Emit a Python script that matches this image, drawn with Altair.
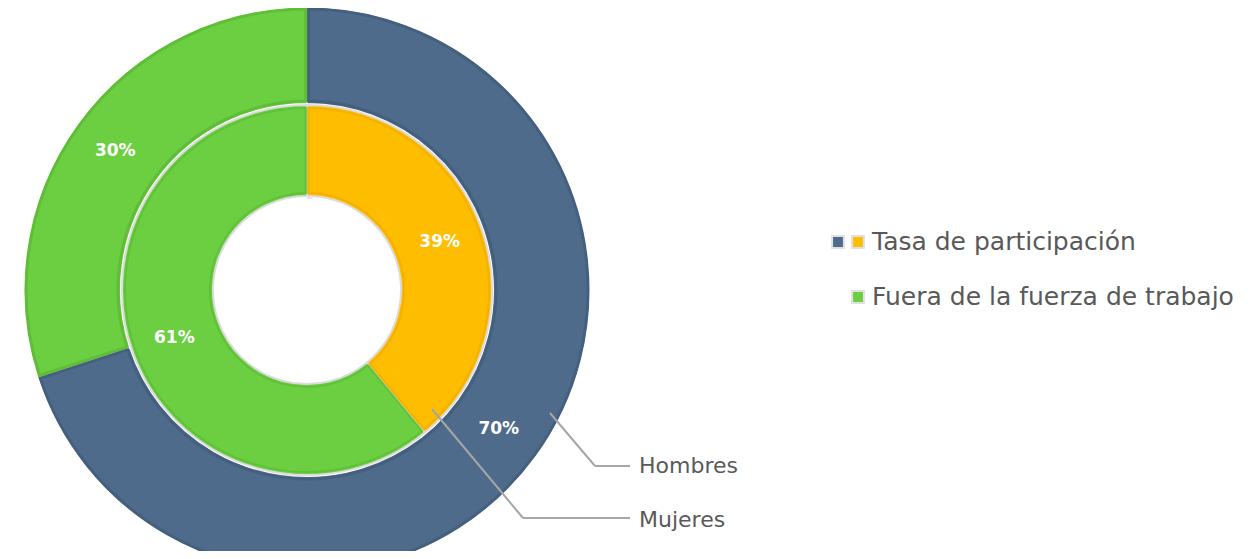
import altair as alt
import pandas as pd

# ---- data ----
categories = ["Tasa de participación", "Fuera de la fuerza de trabajo"]
rings = ["Hombres", "Mujeres"]
hombres = [70, 30]
mujeres = [39, 61]

fill_colors = {
    "Hombres|Tasa de participación": "#4e6b8b",
    "Hombres|Fuera de la fuerza de trabajo": "#6bcf41",
    "Mujeres|Tasa de participación": "#ffbd00",
    "Mujeres|Fuera de la fuerza de trabajo": "#6bcf41",
}
edge_colors = {
    "Hombres|Tasa de participación": "#44607e",
    "Hombres|Fuera de la fuerza de trabajo": "#5fbd37",
    "Mujeres|Tasa de participación": "#f5b000",
    "Mujeres|Fuera de la fuerza de trabajo": "#60c238",
}

rows = []
for ring, vals in zip(rings, [hombres, mujeres]):
    for i, (cat, v) in enumerate(zip(categories, vals)):
        rows.append(dict(ring=ring, category=cat, value=v, order=i,
                         key=f"{ring}|{cat}", label=f"{v}%"))
df = pd.DataFrame(rows)
keys = list(fill_colors.keys())

CX, CY = 299, 282
R_OUT, R_MID, R_IN = 283, 186, 94
FONT = "DejaVu Sans"
GREY = "#595959"

base = alt.Chart(df).encode(
    theta=alt.Theta("value:Q", stack=True),
    order=alt.Order("order:O"),
    x=alt.value(CX),
    y=alt.value(CY),
)
fill_enc = alt.Color("key:N", scale=alt.Scale(domain=keys, range=[fill_colors[k] for k in keys]), legend=None)
edge_enc = alt.Stroke("key:N", scale=alt.Scale(domain=keys, range=[edge_colors[k] for k in keys]), legend=None)

outer = base.transform_filter(alt.datum.ring == "Hombres").mark_arc(
    radius=R_OUT, radius2=R_MID, stroke="white", strokeWidth=2
).encode(color=fill_enc)
outer_edge = base.transform_filter(alt.datum.ring == "Hombres").mark_arc(
    radius=R_OUT - 2, radius2=R_MID + 3, fillOpacity=0, strokeWidth=3, padAngle=0.008
).encode(stroke=edge_enc)

inner = base.transform_filter(alt.datum.ring == "Mujeres").mark_arc(
    radius=R_MID - 1, radius2=R_IN, stroke="#dcdcdc", strokeWidth=2
).encode(color=fill_enc)
inner_edge = base.transform_filter(alt.datum.ring == "Mujeres").mark_arc(
    radius=R_MID - 4, radius2=R_IN + 3, fillOpacity=0, strokeWidth=2, padAngle=0.012
).encode(stroke=edge_enc)

hole = alt.Chart(pd.DataFrame({"v": [1]})).mark_arc(
    radius=R_IN, radius2=R_IN - 3, color="#e4e4e4"
).encode(theta=alt.Theta("v:Q"), x=alt.value(CX), y=alt.value(CY))

txt_outer = base.transform_filter(alt.datum.ring == "Hombres").mark_text(
    radius=237, font=FONT, fontSize=17, fontWeight="bold", color="white"
).encode(text="label:N")
txt_inner = base.transform_filter(alt.datum.ring == "Mujeres").mark_text(
    radius=141, font=FONT, fontSize=17, fontWeight="bold", color="white"
).encode(text="label:N")

# ---- leader lines and ring labels ----
one = pd.DataFrame({"v": [0]})
def rule(x, y, x2, y2):
    return alt.Chart(one).mark_rule(color="#a6a6a6", strokeWidth=2).encode(
        x=alt.value(x), y=alt.value(y), x2=alt.value(x2), y2=alt.value(y2))

leaders = [
    rule(542, 405, 587, 458), rule(587, 458, 622, 458),
    rule(424, 401, 515, 510), rule(515, 510, 622, 510),
]
ring_lbl = [
    alt.Chart(pd.DataFrame({"t": [rings[0]]})).mark_text(
        align="left", baseline="middle", font=FONT, fontSize=22, color=GREY
    ).encode(text="t:N", x=alt.value(631), y=alt.value(458)),
    alt.Chart(pd.DataFrame({"t": [rings[1]]})).mark_text(
        align="left", baseline="middle", font=FONT, fontSize=22, color=GREY
    ).encode(text="t:N", x=alt.value(631), y=alt.value(512)),
]

# ---- manual legend ----
def sq(x, y, c):
    return alt.Chart(one).mark_square(size=140, filled=True, color=c, stroke="#e0e0e0", strokeWidth=2, opacity=1).encode(
        x=alt.value(x), y=alt.value(y))

legend = [
    sq(830, 234, fill_colors[keys[0]]), sq(850, 234, fill_colors[keys[2]]),
    sq(850, 289, fill_colors[keys[1]]),
    alt.Chart(pd.DataFrame({"t": [categories[0]]})).mark_text(
        align="left", baseline="middle", font=FONT, fontSize=25, color=GREY
    ).encode(text="t:N", x=alt.value(864), y=alt.value(234)),
    alt.Chart(pd.DataFrame({"t": [categories[1]]})).mark_text(
        align="left", baseline="middle", font=FONT, fontSize=25, color=GREY
    ).encode(text="t:N", x=alt.value(864), y=alt.value(289)),
]

chart = alt.layer(
    outer, outer_edge, inner, inner_edge, hole, txt_outer, txt_inner,
    *leaders, *ring_lbl, *legend
).properties(width=1235, height=543, padding=0, autosize="none").configure_view(stroke=None)

chart.save("out.html", embed_options={"renderer": "svg", "actions": False})
